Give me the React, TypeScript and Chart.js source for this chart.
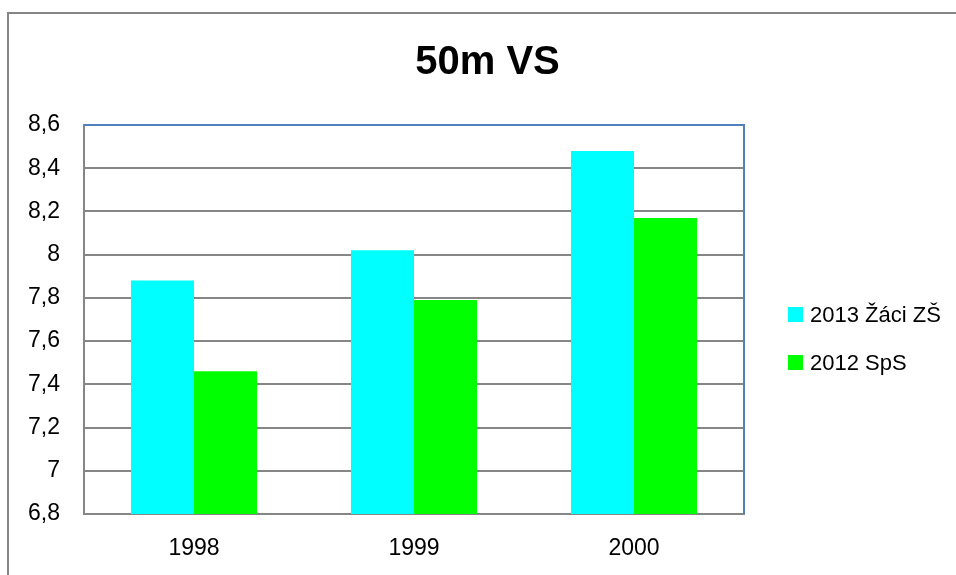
import React, { useEffect, useRef } from "react";
import { Chart, registerables } from "chart.js";

Chart.register(...registerables);

const categories = ["1998", "1999", "2000"];
const seriesNames = ["2013 Žáci ZŠ", "2012 SpS"];
const zaciZS = [7.88, 8.02, 8.48];
const sps = [7.46, 7.79, 8.17];
const seriesColors = ["#00FFFF", "#00FF00"];
const titleText = "50m VS";
const yMin = 6.8;
const yMax = 8.6;
const yStep = 0.2;

const FONT = "'Liberation Sans', Arial, sans-serif";

const framePlugin = {
  id: "framePlugin",
  beforeDraw(chart: any) {
    const ctx = chart.ctx;
    ctx.save();
    ctx.strokeStyle = "#858585";
    ctx.lineWidth = 2;
    ctx.beginPath();
    ctx.moveTo(8, chart.height);
    ctx.lineTo(8, 13);
    ctx.lineTo(chart.width, 13);
    ctx.stroke();
    ctx.restore();
  },
  afterDatasetsDraw(chart: any) {
    const { ctx, chartArea } = chart;
    ctx.save();
    ctx.strokeStyle = "#4F81BD";
    ctx.lineWidth = 2;
    ctx.beginPath();
    ctx.moveTo(chartArea.left, chartArea.top);
    ctx.lineTo(chartArea.right, chartArea.top);
    ctx.lineTo(chartArea.right, chartArea.bottom);
    ctx.stroke();
    ctx.restore();
  },
  afterDraw(chart: any) {
    const ctx = chart.ctx;
    const area = chart.chartArea;
    ctx.save();
    ctx.font = `22px ${FONT}`;
    ctx.textBaseline = "middle";
    ctx.textAlign = "left";
    chart.data.datasets.forEach((ds: any, i: number) => {
      const cy = 314.5 + 48 * i;
      const bx = area.right + 44;
      ctx.fillStyle = ds.backgroundColor;
      ctx.fillRect(bx, cy - 7.5, 15, 15);
      ctx.fillStyle = "#000000";
      ctx.fillText(ds.label, bx + 22, cy + 1);
    });
    ctx.restore();
  },
};

export default function App() {
  const canvasRef = useRef<HTMLCanvasElement | null>(null);

  useEffect(() => {
    if (!canvasRef.current) return;
    const chart = new Chart(canvasRef.current, {
      type: "bar",
      data: {
        labels: categories,
        datasets: [
          {
            label: seriesNames[0],
            data: zaciZS,
            backgroundColor: seriesColors[0],
            categoryPercentage: 0.573,
            barPercentage: 1,
          },
          {
            label: seriesNames[1],
            data: sps,
            backgroundColor: seriesColors[1],
            categoryPercentage: 0.573,
            barPercentage: 1,
          },
        ],
      },
      options: {
        responsive: false,
        animation: false,
        layout: { padding: { top: 0, right: 0, bottom: 0, left: 19 } },
        plugins: {
          legend: { display: false },
          tooltip: { enabled: false },
          title: {
            display: true,
            text: titleText,
            color: "#000000",
            font: { family: FONT, size: 40, weight: "bold", lineHeight: 1.2 },
            padding: { top: 39, bottom: 38 },
          },
        },
        scales: {
          x: {
            grid: { display: false, drawTicks: false },
            border: { display: true, color: "#868686", width: 2 },
            ticks: {
              color: "#000000",
              font: { family: FONT, size: 23 },
              padding: 21,
            },
            afterFit(scale: any) {
              scale.height = 61;
            },
          },
          y: {
            min: yMin,
            max: yMax,
            grid: { color: "#868686", lineWidth: 2, drawTicks: false },
            border: { display: true, color: "#868686", width: 2 },
            ticks: {
              stepSize: yStep,
              color: "#000000",
              font: { family: FONT, size: 23 },
              padding: 24,
              callback: (v: any) => String(Number(Number(v).toFixed(1))).replace(".", ","),
            },
            afterFit(scale: any) {
              scale.width = 65;
            },
          },
          legendSpace: {
            type: "linear",
            position: "right",
            grid: { display: false, drawTicks: false },
            border: { display: false },
            ticks: { display: false },
            afterFit(scale: any) {
              scale.width = 212;
            },
          },
        },
      },
      plugins: [framePlugin],
    });
    return () => chart.destroy();
  }, []);

  return (
    <div style={{ position: "fixed", left: 0, top: 0, width: 956, height: 575, background: "#ffffff" }}>
      <canvas ref={canvasRef} width={956} height={575} style={{ width: 956, height: 575 }} />
    </div>
  );
}
